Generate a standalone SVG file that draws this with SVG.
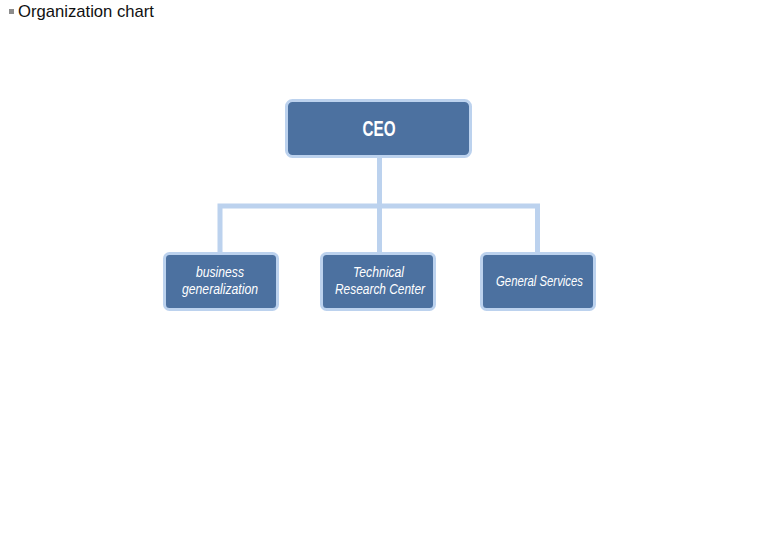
<svg xmlns="http://www.w3.org/2000/svg" width="759" height="550" viewBox="0 0 759 550">
<style>
.box{fill:#4C71A0;stroke:#BCD2EE;stroke-width:3}
.lbl{font-family:"Liberation Sans",Arial,sans-serif;font-style:italic;font-size:14px;fill:#FFFFFF;text-anchor:middle}
.conn{fill:none;stroke:#BCD2EE;stroke-width:5}
</style>
<rect width="759" height="550" fill="#FFFFFF"/>
<g id="title">
<rect x="9" y="9" width="5" height="5" fill="#8C8C8C"/>
<text x="18" y="17" font-family="Liberation Sans,Arial,sans-serif" font-size="17" fill="#111111" textLength="136" lengthAdjust="spacingAndGlyphs">Organization chart</text>
</g>
<g id="connectors">
<path class="conn" d="M379.5 158 V206 M220 252 V206 H537.5 V252 M379.5 206 V252"/>
</g>
<g id="ceo">
<rect class="box" x="286.5" y="100.5" width="184" height="56" rx="6"/>
<text x="379" y="136" font-family="Liberation Sans,Arial,sans-serif" font-weight="bold" font-size="22" fill="#FFFFFF" text-anchor="middle" textLength="33" lengthAdjust="spacingAndGlyphs">CEO</text>
</g>
<g id="business">
<rect class="box" x="164.5" y="253.5" width="113" height="56" rx="5"/>
<text class="lbl" x="220" y="277" textLength="48" lengthAdjust="spacingAndGlyphs">business</text>
<text class="lbl" x="220" y="294" textLength="76" lengthAdjust="spacingAndGlyphs">generalization</text>
</g>
<g id="technical">
<rect class="box" x="321.5" y="253.5" width="113" height="56" rx="5"/>
<text class="lbl" x="378.5" y="277" textLength="51" lengthAdjust="spacingAndGlyphs">Technical</text>
<text class="lbl" x="380" y="294" textLength="90" lengthAdjust="spacingAndGlyphs">Research Center</text>
</g>
<g id="general">
<rect class="box" x="481.5" y="253.5" width="113" height="56" rx="5"/>
<text class="lbl" x="539.5" y="286" textLength="87" lengthAdjust="spacingAndGlyphs">General Services</text>
</g>
</svg>
